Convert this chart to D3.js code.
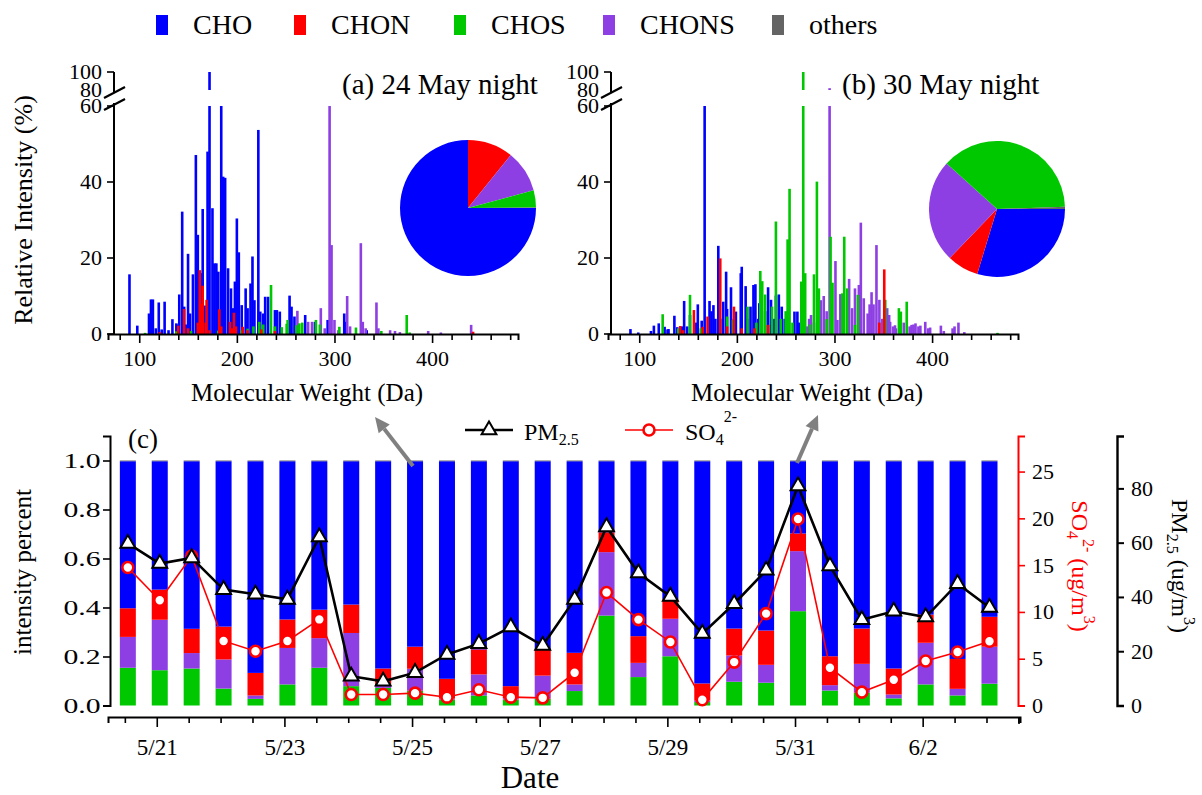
<!DOCTYPE html>
<html><head><meta charset="utf-8">
<script src="https://cdn.jsdelivr.net/npm/d3@7"></script>
<style>
body{margin:0;background:#fff}
svg{display:block}
text{font-family:"Liberation Serif","Times New Roman",serif;fill:#000}
</style>
</head><body>
<svg id="chart" width="1202" height="795"></svg>
<script>
// ---------------- DATA ----------------
const classes = ["CHO", "CHON", "CHOS", "CHONS", "others"];
const classColors = ["#0000ff", "#ff0000", "#00c800", "#8e3fe4", "#646464"];

// Spectrum (a) 24 May night: [molecular weight (Da), relative intensity (%)]
const specA_CHO = [[90,15.7],[98,2.2],[110,5.4],[112,9.1],[114,9.1],[117,1.5],[120,8.3],[123,1.2],[126,8.5],[130,1.0],[134,3.9],[138,2.8],[140,2.5],[141,10.4],[144,32.2],[146,7.2],[148,2.5],[150,21.1],[152,5.4],[155,15.7],[158,47.1],[160,26.1],[163,16.0],[165,32.9],[167,7.5],[170,48.0],[172,100],[175,33.1],[177,18.6],[179,18.6],[181,16.4],[184,60],[186,41.4],[188,41.1],[191,17.3],[194,12.0],[196,6.8],[198,13.8],[200,30.4],[202,21.5],[205,7.6],[209,12.0],[211,6.8],[214,13.3],[216,20.4],[218,8.9],[222,53.7],[224,5.9],[227,5.4],[229,9.8],[232,9.8],[239,6.3],[241,6.3],[244,5.9],[254,10.1],[256,7.2],[259,4.6],[270,5.0],[280,3.2],[293,3.7],[310,5.4],[312,3.2],[333,1.0]];
const specA_CHON = [[121,0.5],[140,2.2],[146,6.6],[150,1.5],[160,3.0],[162,16.8],[164,8.0],[165,12.7],[168,3.0],[169,9.0],[172,1.0],[182,6.5],[184,2.0],[193,3.2],[195,1.5],[197,5.6],[199,2.0],[206,1.9],[211,1.0],[225,1.2],[239,0.8],[442,0.6]];
const specA_CHOS = [[106,0.3],[138,0.7],[153,0.8],[181,0.9],[205,1.0],[211,1.4],[217,2.0],[223,3.2],[227,2.5],[235,12.9],[239,2.0],[246,1.8],[251,2.7],[252,3.7],[261,2.3],[264,2.8],[267,3.0],[281,3.7],[285,2.5],[305,1.9],[322,1.7],[348,0.8],[374,5.0],[377,0.4]];
const specA_CHONS = [[262,6.1],[273,3.2],[277,3.2],[286,6.8],[290,1.5],[295,60],[297,23.4],[300,3.7],[304,1.0],[313,10.0],[316,2.0],[327,23.9],[329,3.2],[332,1.5],[343,8.3],[345,1.5],[357,1.0],[362,0.8],[367,0.5],[396,0.8],[409,0.4],[440,2.4]];

// Spectrum (b) 30 May night
const specB_CHO = [[91,1.3],[99,0.4],[112,0.8],[115,2.2],[120,2.8],[126,1.9],[129,1.2],[130,1.3],[136,4.8],[139,1.8],[144,2.0],[146,8.7],[149,2.0],[152,5.0],[158,3.0],[160,7.8],[164,3.5],[167,60],[172,8.7],[174,6.0],[176,7.6],[178,4.0],[181,23.2],[183,4.0],[186,8.5],[189,16.4],[190,6.6],[194,12.3],[197,4.0],[199,5.9],[204,16.0],[205,17.7],[209,12.6],[211,4.0],[214,7.2],[217,12.9],[219,13.1],[222,4.0],[223,8.1],[229,6.0],[232,12.3],[235,9.0],[238,4.0],[240,10.1],[243,10.4],[246,7.2],[249,4.0],[259,5.9],[262,5.9],[264,3.0]];
const specB_CHON = [[142,2.1],[145,1.0],[156,6.3],[165,1.9],[170,4.6],[183,19.9],[190,2.0],[197,7.2],[205,1.5],[218,1.5],[232,2.4],[346,3.0],[351,17.0]];
const specB_CHOS = [[124,5.2],[140,1.5],[152,10.3],[163,1.5],[190,4.6],[196,3.7],[211,7.2],[220,3.0],[224,16.6],[226,13.9],[229,10.4],[236,7.2],[240,29.6],[245,4.0],[250,6.0],[252,24.9],[254,38.2],[257,3.0],[266,13.8],[268,100],[270,16.0],[275,2.5],[279,15.7],[282,40.1],[284,12.0],[292,3.9],[296,25.6],[298,13.5],[308,10.7],[310,25.6],[313,12.0],[321,2.4],[324,10.3],[352,9.0],[366,6.8],[368,5.9],[374,8.5],[467,0.3]];
const specB_CHONS = [[269,3.2],[272,2.0],[274,4.0],[276,5.0],[279,3.0],[286,8.9],[289,10.0],[292,6.0],[295,82],[297,8.0],[301,19.2],[303,3.7],[306,10.5],[309,6.0],[315,14.5],[318,6.8],[321,12.0],[325,12.9],[327,29.3],[330,9.4],[334,5.4],[336,7.8],[338,11.0],[340,7.8],[343,23.4],[346,9.0],[349,4.0],[354,6.8],[356,5.0],[357,3.2],[360,2.0],[362,2.3],[363,1.5],[371,3.0],[377,2.0],[379,2.4],[381,2.5],[383,2.8],[386,2.0],[388,2.2],[393,3.2],[396,1.5],[398,1.7],[409,2.2],[412,0.8],[421,1.5],[423,2.0],[427,3.0],[433,0.5]];

// Pie fractions (%), listed in drawing order
const pieOrder = ["CHO", "CHON", "CHONS", "CHOS", "others"];
const pieA = [75.0, 10.8, 10.0, 4.1, 0.1];
const pieB = [29.7, 7.5, 24.5, 37.8, 0.5];

// Panel (c): day / night samples
const sampleTimes = ["05-20 12:00","05-21 00:00","05-21 12:00","05-22 00:00","05-22 12:00","05-23 00:00","05-23 12:00","05-24 00:00","05-24 12:00","05-25 00:00","05-25 12:00","05-26 00:00","05-26 12:00","05-27 00:00","05-27 12:00","05-28 00:00","05-28 12:00","05-29 00:00","05-29 12:00","05-30 00:00","05-30 12:00","05-31 00:00","05-31 12:00","06-01 00:00","06-01 12:00","06-02 00:00","06-02 12:00","06-03 00:00"];
const fracCHOS  = [.154,.144,.151,.069,.027,.086,.154,.079,.072,.060,.024,.041,.024,.027,.059,.367,.116,.201,.014,.097,.093,.385,.061,.052,.029,.086,.041,.089];
const fracCHONS = [.126,.206,.063,.119,.014,.149,.121,.217,.010,.090,.004,.086,.006,.095,.027,.259,.058,.153,.006,.107,.073,.245,.022,.118,.016,.170,.027,.151];
const fracCHON  = [.117,.123,.099,.134,.092,.116,.116,.116,.069,.090,.081,.102,.049,.108,.129,.081,.109,.079,.070,.110,.140,.072,.118,.144,.106,.115,.122,.122];
const fracCHO   = [.600,.524,.684,.675,.864,.646,.606,.585,.846,.757,.888,.768,.918,.767,.782,.290,.714,.564,.907,.683,.691,.295,.796,.683,.846,.626,.807,.635];
const fracOthers= [.003,.003,.003,.003,.003,.003,.003,.003,.003,.003,.003,.003,.003,.003,.003,.003,.003,.003,.003,.003,.003,.003,.003,.003,.003,.003,.003,.003];
const pm25 = [59.7,52.3,54.4,42.7,41.0,39.1,62.1,10.8,8.9,12.1,18.8,22.8,28.9,22.1,39.1,65.8,48.8,40.2,26.5,37.5,49.8,80.9,51.4,31.6,34.7,32.6,44.9,36.1];
const so4  = [14.75,11.25,15.96,6.9,5.8,6.9,9.2,1.18,1.18,1.32,0.89,1.68,0.89,0.82,3.5,12.07,9.18,6.79,0.61,4.64,9.82,19.93,4.04,1.43,2.75,4.75,5.71,6.86];
const dateTickLabels = ["5/21","5/23","5/25","5/27","5/29","5/31","6/2"];
const specXTicks = [80,100,120,140,160,180,200,220,240,260,280,300,320,340,360,380,400,420,440,460,480];
const specYTicks = [0,20,40,60,80,100];
const fracTicks = [0,0.2,0.4,0.6,0.8,1.0];
const so4Ticks = [0,5,10,15,20,25];
const pmTicks = [0,20,40,60,80];

// ---------------- DRAW ----------------
const svg = d3.select("#chart");
const color = d3.scaleOrdinal().domain(classes).range(classColors);

function rich(sel, parts) {
  parts.forEach(p => {
    sel.append("tspan").attr("font-size", p.s).attr("dy", p.dy || 0).text(p.t);
  });
}

// Top legend
const legendPos = {CHO:156, CHON:294, CHOS:454, CHONS:603, others:772};
const lg = svg.append("g");
classes.forEach(c => {
  lg.append("rect").attr("x", legendPos[c]).attr("y", 15).attr("width", 12).attr("height", 20).attr("fill", color(c));
  lg.append("text").attr("x", legendPos[c] + 37).attr("y", 34).attr("font-size", 28).text(c);
});

// Spectra panels
function spectrum(x0, axisX, title, series, pie, pieCx, pieCy) {
  const xS = d3.scaleLinear().domain([68, 488]).range([x0 - 6, x0 + 404]);
  const yS = d3.scaleLinear().domain([0, 60, 80, 100]).range([334, 106, 90, 72]);
  const g = svg.append("g");
  const w = 2.6;
  series.forEach(([cls, data]) => {
    g.append("g").selectAll("rect").data(data).join("rect")
      .attr("x", d => xS(d[0]) - w / 2).attr("width", w)
      .attr("y", d => yS(Math.min(d[1], 60)))
      .attr("height", d => yS(0) - yS(Math.min(d[1], 60)))
      .attr("fill", color(cls));
    g.append("g").selectAll("rect").data(data.filter(d => d[1] > 80)).join("rect")
      .attr("x", d => xS(d[0]) - w / 2).attr("width", w)
      .attr("y", d => yS(d[1]))
      .attr("height", d => yS(80) - yS(d[1]))
      .attr("fill", color(cls));
  });
  // x axis
  const ax = d3.axisBottom(xS).tickValues(specXTicks)
    .tickFormat(d => d % 100 === 0 ? d : "").tickSizeOuter(0).tickSize(6).tickPadding(6);
  const gx = g.append("g").attr("transform", `translate(0,${yS(0)})`).call(ax);
  gx.select(".domain").attr("stroke-width", 2);
  gx.selectAll(".tick line").attr("stroke-width", 1.6).attr("y2", d => d % 100 === 0 ? 9 : 6);
  gx.selectAll(".tick text").attr("font-size", 22).attr("font-family", "Liberation Serif").attr("dy", "0.9em");
  // y axis (broken)
  const gy = g.append("g");
  gy.append("line").attr("x1", axisX).attr("x2", axisX).attr("y1", yS(0)).attr("y2", 103).attr("stroke", "#000").attr("stroke-width", 2);
  gy.append("line").attr("x1", axisX).attr("x2", axisX).attr("y1", 92).attr("y2", yS(100)).attr("stroke", "#000").attr("stroke-width", 2);
  [93, 105].forEach(yy => gy.append("line").attr("x1", axisX - 10).attr("x2", axisX + 11).attr("y1", yy + 5).attr("y2", yy - 6).attr("stroke", "#000").attr("stroke-width", 2.2));
  specYTicks.forEach(t => {
    if (t !== 80) gy.append("line").attr("x1", axisX - 7).attr("x2", axisX).attr("y1", yS(t)).attr("y2", yS(t)).attr("stroke", "#000").attr("stroke-width", 1.6);
    gy.append("text").attr("x", axisX - 12).attr("y", yS(t)).attr("dy", "0.33em").attr("text-anchor", "end").attr("font-size", 22).text(t);
  });
  // title
  g.append("text").attr("x", x0 + 228).attr("y", 94).attr("font-size", 29).text(title);
  g.append("text").attr("x", x0 + 193).attr("y", 401).attr("text-anchor", "middle").attr("font-size", 25).text("Molecular Weight (Da)");
  // pie
  const pieGen = d3.pie().sort(null).startAngle(Math.PI / 2).endAngle(Math.PI / 2 + 2 * Math.PI);
  const arcs = pieGen(pie);
  const arc = d3.arc().innerRadius(0).outerRadius(68);
  g.append("g").attr("transform", `translate(${pieCx},${pieCy})`)
    .selectAll("path").data(arcs).join("path").attr("d", arc).attr("fill", (d, i) => color(pieOrder[i]));
}

spectrum(114, 114, "(a) 24 May night",
  [["CHO", specA_CHO], ["CHONS", specA_CHONS], ["CHOS", specA_CHOS], ["CHON", specA_CHON]],
  pieA, 468, 208);
spectrum(614, 611, "(b) 30 May night",
  [["CHO", specB_CHO], ["CHONS", specB_CHONS], ["CHOS", specB_CHOS], ["CHON", specB_CHON]],
  pieB, 997, 209);

svg.append("text").attr("transform", "translate(32,210) rotate(-90)").attr("text-anchor", "middle").attr("font-size", 26).text("Relative Intensity (%)");

// Panel (c)
const parseT = d3.utcParse("%m-%d %H:%M");
const rows = sampleTimes.map((t, i) => ({
  t: parseT(t), CHOS: fracCHOS[i], CHONS: fracCHONS[i], CHON: fracCHON[i], CHO: fracCHO[i], others: fracOthers[i],
  pm: pm25[i], so4: so4[i]
}));
const xC = d3.scaleUtc().domain([parseT("05-20 05:40"), parseT("06-03 12:36")]).range([108, 1020]);
const yL = d3.scaleLinear().domain([0, 1.1]).range([705.5, 436]);
const yS4 = d3.scaleLinear().domain([0, 28.8]).range([705.5, 436]);
const yPM = d3.scaleLinear().domain([0, 99.3]).range([705.5, 436]);

const stackKeys = ["CHOS", "CHONS", "CHON", "CHO", "others"];
const stacked = d3.stack().keys(stackKeys)(rows);
const gc = svg.append("g");
const bw = 16;
stacked.forEach(layer => {
  gc.append("g").attr("fill", color(layer.key)).selectAll("rect").data(layer).join("rect")
    .attr("x", d => xC(d.data.t) + 3 - bw / 2).attr("width", bw)
    .attr("y", d => yL(d[1])).attr("height", d => Math.max(0, yL(d[0]) - yL(d[1])));
});

// left axis
const gl = gc.append("g").attr("transform", "translate(110,0)")
  .call(d3.axisLeft(yL).tickValues(fracTicks).tickFormat(d3.format(".1f")).tickSizeOuter(0).tickSize(7).tickPadding(0));
gl.select(".domain").attr("stroke-width", 2);
gl.selectAll(".tick line").attr("stroke-width", 1.6);
gl.selectAll(".tick text").attr("font-size", 22).attr("font-family", "Liberation Serif").attr("transform", "scale(1.35,1)");

// right axes
const gr1 = gc.append("g").attr("transform", "translate(1018,0)")
  .call(d3.axisRight(yS4).tickValues(so4Ticks).tickSizeOuter(0).tickSize(7).tickPadding(7));
gr1.select(".domain").attr("stroke", "#ff0000").attr("stroke-width", 2);
gr1.selectAll(".tick line").attr("stroke", "#ff0000").attr("stroke-width", 1.6);
gr1.selectAll(".tick text").attr("fill", "#ff0000").attr("font-size", 22).attr("font-family", "Liberation Serif");

const gr2 = gc.append("g").attr("transform", "translate(1117,0)")
  .call(d3.axisRight(yPM).tickValues(pmTicks).tickSizeOuter(0).tickSize(7).tickPadding(7));
gr2.select(".domain").attr("stroke-width", 2.4);
gr2.selectAll(".tick line").attr("stroke-width", 2);
gr2.selectAll(".tick text").attr("font-size", 22).attr("font-family", "Liberation Serif");

// bottom axis
const fmt = d3.utcFormat("%-m/%-d");
const xTicks = d3.utcHour.every(12).range(parseT("05-20 12:00"), parseT("06-03 12:01"));
const isMajor = d => d.getUTCHours() === 0 && dateTickLabels.includes(fmt(d));
const gb = gc.append("g").attr("transform", "translate(0,717)")
  .call(d3.axisBottom(xC).tickValues(xTicks).tickFormat(d => isMajor(d) ? fmt(d) : "").tickSizeOuter(0).tickSize(6).tickPadding(10));
gb.select(".domain").attr("stroke-width", 2);
gb.selectAll(".tick line").attr("stroke-width", 1.6).attr("y2", d => isMajor(d) ? 10 : 6);
gb.selectAll(".tick text").attr("font-size", 23).attr("font-family", "Liberation Serif").attr("dy", "0.95em");
gc.append("line").attr("x1", 1019).attr("x2", 1019).attr("y1", 717).attr("y2", 724).attr("stroke", "#000").attr("stroke-width", 1.6);

// lines
const lineS = d3.line().x(d => xC(d.t) + 3).y(d => yS4(d.so4));
const lineP = d3.line().x(d => xC(d.t) + 3).y(d => yPM(d.pm));
gc.append("path").datum(rows).attr("d", lineS).attr("fill", "none").attr("stroke", "#ff0000").attr("stroke-width", 1.6);
gc.append("g").selectAll("circle").data(rows).join("circle")
  .attr("cx", d => xC(d.t) + 3).attr("cy", d => yS4(d.so4)).attr("r", 5.5)
  .attr("fill", "#fff").attr("stroke", "#ff0000").attr("stroke-width", 2.6);
gc.append("path").datum(rows).attr("d", lineP).attr("fill", "none").attr("stroke", "#000").attr("stroke-width", 2.6);
const tri = d3.symbol().type(d3.symbolTriangle).size(95);
gc.append("g").selectAll("path").data(rows).join("path")
  .attr("transform", d => `translate(${xC(d.t) + 3},${yPM(d.pm)})`).attr("d", tri)
  .attr("fill", "#fff").attr("stroke", "#000").attr("stroke-width", 2);

// axis titles (c)
svg.append("text").attr("transform", "translate(31,572) rotate(-90)").attr("text-anchor", "middle").attr("font-size", 25).text("intensity percent");
svg.append("text").attr("x", 530).attr("y", 788).attr("text-anchor", "middle").attr("font-size", 31).text("Date");
svg.append("text").attr("x", 128).attr("y", 448).attr("font-size", 27).text("(c)");

const t1 = svg.append("text").attr("transform", "translate(1072,566) rotate(90)").attr("text-anchor", "middle").attr("font-size", 24).style("fill", "#ff0000");
rich(t1, [{t: "SO", s: 24}, {t: "4", s: 16, dy: 5}, {t: "2-", s: 16, dy: -16}, {t: " (ug/m", s: 24, dy: 11}, {t: "3", s: 16, dy: -12}, {t: ")", s: 24, dy: 12}]);
t1.selectAll("tspan").style("fill", "#ff0000");
const t2 = svg.append("text").attr("transform", "translate(1172,566) rotate(90)").attr("text-anchor", "middle").attr("font-size", 24);
rich(t2, [{t: "PM", s: 24}, {t: "2.5", s: 16, dy: 5}, {t: " (ug/m", s: 24, dy: -5}, {t: "3", s: 16, dy: -12}, {t: ")", s: 24, dy: 12}]);

// line legend
const ll = svg.append("g");
ll.append("line").attr("x1", 465).attr("x2", 513).attr("y1", 430).attr("y2", 430).attr("stroke", "#000").attr("stroke-width", 2.6);
ll.append("path").attr("transform", "translate(489,430)").attr("d", tri).attr("fill", "#fff").attr("stroke", "#000").attr("stroke-width", 2);
const lt1 = ll.append("text").attr("x", 524).attr("y", 440).attr("font-size", 24);
rich(lt1, [{t: "PM", s: 24}, {t: "2.5", s: 16, dy: 5}]);
ll.append("line").attr("x1", 625).attr("x2", 673).attr("y1", 430).attr("y2", 430).attr("stroke", "#ff0000").attr("stroke-width", 1.6);
ll.append("circle").attr("cx", 649).attr("cy", 430).attr("r", 5.5).attr("fill", "#fff").attr("stroke", "#ff0000").attr("stroke-width", 2.6);
const lt2 = ll.append("text").attr("x", 685).attr("y", 440).attr("font-size", 24);
rich(lt2, [{t: "SO", s: 24}, {t: "4", s: 16, dy: 5}, {t: "2-", s: 16, dy: -23}]);

// arrows
function arrow(x1, y1, x2, y2) {
  const ang = Math.atan2(y2 - y1, x2 - x1);
  const hl = 15, hw = 7;
  const bx = x2 - hl * Math.cos(ang), by = y2 - hl * Math.sin(ang);
  svg.append("line").attr("x1", x1).attr("y1", y1).attr("x2", bx).attr("y2", by).attr("stroke", "#808080").attr("stroke-width", 4);
  svg.append("path").attr("d", `M${x2},${y2}L${bx + hw * Math.sin(ang)},${by - hw * Math.cos(ang)}L${bx - hw * Math.sin(ang)},${by + hw * Math.cos(ang)}Z`).attr("fill", "#808080");
}
arrow(413, 466, 375, 417);
arrow(797, 463, 818, 415);
</script>
</body></html>
